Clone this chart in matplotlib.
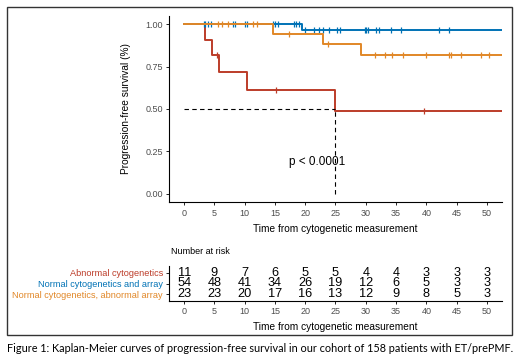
import numpy as np
import matplotlib
matplotlib.use("Agg")
import matplotlib.pyplot as plt
from matplotlib.patches import Rectangle

plt.rcParams['font.family'] = ['Liberation Sans', 'DejaVu Sans']

# group names and colours
groups = ["Abnormal cytogenetics", "Normal cytogenetics and array",
          "Normal cytogenetics, abnormal array"]
colors = ["#BC3C29", "#0072B5", "#E18727"]

# step curves (time, survival)
red_t = [0, 3.45, 4.65, 5.8, 10.4, 25.0, 52.5]
red_s = [1.0, 0.909, 0.818, 0.716, 0.614, 0.491, 0.491]
red_cens = [5.4, 15.2, 39.6]

blue_t = [0, 19.5, 52.5]
blue_s = [1.0, 0.967, 0.967]
blue_cens = [3.2, 3.5, 4.0, 4.4, 8.1, 8.4, 10.0, 10.4, 14.7, 15.0, 15.5,
             18.1, 18.5, 18.9, 19.9, 21.5, 22.3, 22.9, 24.0, 25.2, 25.8,
             29.8, 30.0, 30.3, 31.7, 32.2, 34.2, 35.8, 42.1, 43.8]

orange_t = [0, 14.6, 22.9, 29.2, 52.5]
orange_s = [1.0, 0.943, 0.884, 0.818, 0.818]
orange_cens = [5.6, 6.2, 7.2, 11.4, 12.0, 17.3, 23.7, 31.6, 33.1, 34.3,
               36.1, 39.9, 43.8, 44.1, 45.7, 49.1, 50.3]

# number at risk table
risk_times = [0, 5, 10, 15, 20, 25, 30, 35, 40, 45, 50]
risk_abn = [11, 9, 7, 6, 5, 5, 4, 4, 3, 3, 3]
risk_norm = [54, 48, 41, 34, 26, 19, 12, 6, 5, 3, 3]
risk_arr = [23, 23, 20, 17, 16, 13, 12, 9, 8, 5, 3]

curves = [(red_t, red_s, red_cens), (blue_t, blue_s, blue_cens),
          (orange_t, orange_s, orange_cens)]
risks = [risk_abn, risk_norm, risk_arr]

fig = plt.figure(figsize=(5.2, 3.59), dpi=100)
W, H = 520, 359


def box(l, t, r, b):
    return [l / W, 1 - b / H, (r - l) / W, (b - t) / H]


gray = "#4D4D4D"
ax = fig.add_axes(box(169, 15.7, 502, 202.3))
for (t, s, cens), c in zip(curves, colors):
    ax.step(t, s, where='post', color=c, lw=1.4)
    idx = np.searchsorted(t, cens, side='right') - 1
    ax.plot(cens, np.array(s)[idx], ls='none', marker='|', ms=5, mew=0.9, color=c)

ax.plot([0, 25], [0.5, 0.5], ls=(0, (4, 3)), color='black', lw=0.8)
ax.plot([25, 25], [0, 0.5], ls=(0, (4, 3)), color='black', lw=0.8)
ax.text(21.9, 0.19, "p < 0.0001", fontsize=8.5, ha='center', va='center')

ax.set_xlim(-2.5, 52.5)
ax.set_ylim(-0.05, 1.05)
ax.set_xticks(risk_times)
ax.set_yticks([0, 0.25, 0.5, 0.75, 1.0])
ax.set_yticklabels(["0.00", "0.25", "0.50", "0.75", "1.00"])
ax.tick_params(labelsize=6.5, labelcolor=gray, length=2.5, width=0.6, pad=2)
for sp in ['top', 'right']:
    ax.spines[sp].set_visible(False)
ax.spines['left'].set_linewidth(0.8)
ax.spines['bottom'].set_linewidth(0.8)
ax.set_xlabel("Time from cytogenetic measurement", fontsize=7.3, labelpad=5)
ax.set_ylabel("Progression-free survival (%)", fontsize=7.3, labelpad=10)

# risk table
tx = fig.add_axes(box(169, 266, 502, 301))
rows = [3, 2, 1]
for y, vals in zip(rows, risks):
    for xt, v in zip(risk_times, vals):
        tx.text(xt, y, str(v), fontsize=9.2, ha='center', va='center')
tx.set_xlim(-2.5, 52.5)
tx.set_ylim(0.4, 3.6)
tx.set_xticks(risk_times)
tx.set_yticks(rows)
tx.set_yticklabels(groups)
for lab, c in zip(tx.get_yticklabels(), colors):
    lab.set_color(c)
tx.tick_params(axis='y', labelsize=6.6, length=2.5, width=0.6, pad=2)
tx.tick_params(axis='x', labelsize=6.5, labelcolor=gray, length=2.5, width=0.6, pad=2)
for sp in ['top', 'right']:
    tx.spines[sp].set_visible(False)
tx.spines['left'].set_linewidth(0.8)
tx.spines['bottom'].set_linewidth(0.8)
tx.set_xlabel("Time from cytogenetic measurement", fontsize=7.3, labelpad=4)
fig.text(171 / W, 1 - 251 / H, "Number at risk", fontsize=6.5, va='center')

# frame and caption
fig.patches.append(Rectangle((7 / W, 1 - 335 / H), 505 / W, 328 / H,
                             transform=fig.transFigure, fill=False,
                             edgecolor='#333333', lw=1.0))
fig.text(260 / W, 1 - 348 / H,
         "Figure 1: Kaplan-Meier curves of progression-free survival in our cohort of 158 patients with ET/prePMF.",
         fontsize=7.8, ha='center', va='center', family=['Lato', 'DejaVu Sans'])

fig.savefig("out.png", dpi=100)
